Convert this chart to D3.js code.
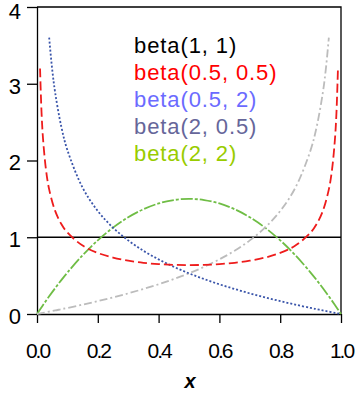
<!DOCTYPE html>
<html>
<head>
<meta charset="utf-8">
<script src="https://cdn.jsdelivr.net/npm/d3@7"></script>
<style>
body { margin: 0; background: #fff; }
svg { display: block; font-family: "Liberation Sans", Arial, sans-serif; }
</style>
</head>
<body>
<div id="canvas"></div>
<script>
// DATA -----------------------------------------------------
var xs_u = [0.01, 0.015, 0.02, 0.03, 0.04, 0.06, 0.08, 0.1, 0.15, 0.2, 0.25, 0.3, 0.35, 0.4, 0.45, 0.5,
  0.55, 0.6, 0.65, 0.7, 0.75, 0.8, 0.85, 0.9, 0.92, 0.94, 0.96, 0.97, 0.98, 0.985, 0.99];
var ys_u = [3.199, 2.619, 2.274, 1.866, 1.624, 1.340, 1.173, 1.061, 0.891, 0.796, 0.735, 0.695, 0.667, 0.650, 0.640, 0.637,
  0.640, 0.650, 0.667, 0.695, 0.735, 0.796, 0.891, 1.061, 1.173, 1.340, 1.624, 1.866, 2.274, 2.619, 3.199];

var xs_b = [0.04, 0.05, 0.06, 0.08, 0.1, 0.15, 0.2, 0.25, 0.3, 0.35, 0.4, 0.45, 0.5, 0.55, 0.6, 0.65, 0.7, 0.75,
  0.8, 0.85, 0.9, 0.92, 0.94, 0.96, 0.98, 0.99, 1.0];
var ys_b = [3.6, 3.186, 2.878, 2.440, 2.135, 1.646, 1.342, 1.125, 0.959, 0.824, 0.712, 0.615, 0.530, 0.455, 0.387, 0.326, 0.269, 0.217,
  0.168, 0.122, 0.079, 0.063, 0.046, 0.031, 0.015, 0.008, 0];

var xs_g = [0, 0.01, 0.02, 0.04, 0.06, 0.08, 0.1, 0.15, 0.2, 0.25, 0.3, 0.35, 0.4, 0.45, 0.5, 0.55, 0.6, 0.65, 0.7, 0.75,
  0.8, 0.85, 0.9, 0.92, 0.94, 0.95, 0.96];
var ys_g = [0, 0.008, 0.015, 0.031, 0.046, 0.063, 0.079, 0.122, 0.168, 0.217, 0.269, 0.326, 0.387, 0.455, 0.530, 0.615, 0.712, 0.824, 0.959, 1.125,
  1.342, 1.646, 2.135, 2.440, 2.878, 3.186, 3.6];

var xs_s = [0, 0.02, 0.04, 0.06, 0.08, 0.1, 0.15, 0.2, 0.25, 0.3, 0.35, 0.4, 0.45, 0.5, 0.55, 0.6, 0.65, 0.7, 0.75,
  0.8, 0.85, 0.9, 0.92, 0.94, 0.96, 0.98, 1.0];
var ys_s = [0, 0.118, 0.230, 0.338, 0.442, 0.54, 0.765, 0.96, 1.125, 1.26, 1.365, 1.44, 1.485, 1.5, 1.485, 1.44, 1.365, 1.26, 1.125,
  0.96, 0.765, 0.54, 0.442, 0.338, 0.230, 0.118, 0];

var xs_one = [0, 1];
var ys_one = [1, 1];

var legend_labels = ["beta(1, 1)", "beta(0.5, 0.5)", "beta(0.5, 2)", "beta(2, 0.5)", "beta(2, 2)"];
var legend_colors = ["#000000", "#ff0000", "#6b6bff", "#66669a", "#99cc00"];

var x_ticks = [0, 0.2, 0.4, 0.6, 0.8, 1.0];
var y_ticks = [0, 1, 2, 3, 4];

// STRUCTURE ------------------------------------------------
var W = 357, H = 394;
var m_left = 37, m_right = 341, m_top = 7, m_bottom = 314;

var svg = d3.select("#canvas").append("svg")
  .attr("width", W)
  .attr("height", H);

var xScale = d3.scaleLinear().domain([0, 1]).range([m_left, m_right]);
var yScale = d3.scaleLinear().domain([0, 4]).range([m_bottom, m_top]);

// frame (top, right)
svg.append("path")
  .attr("d", `M${m_left},${m_top}H${m_right}V${m_bottom}`)
  .attr("fill", "none")
  .attr("stroke", "#000")
  .attr("stroke-width", 1.3);

// axes
var yAxis = svg.append("g")
  .attr("transform", `translate(${m_left},0)`)
  .call(d3.axisLeft(yScale).tickValues(y_ticks).tickSize(10).tickPadding(6).tickFormat(d3.format("d")));
var xAxis = svg.append("g")
  .attr("transform", `translate(0,${m_bottom})`)
  .call(d3.axisBottom(xScale).tickValues(x_ticks).tickSize(9).tickPadding(20).tickFormat(d3.format(".1f")));

[xAxis, yAxis].forEach(function (a) {
  a.select(".domain").attr("stroke-width", 1.3);
  a.selectAll(".tick line").attr("stroke-width", 1.3);
  a.selectAll("text").attr("font-family", "Liberation Sans, Arial, sans-serif").attr("fill", "#000");
});
yAxis.select(".domain").attr("d", `M0.5,${m_top}V${m_bottom}`);
xAxis.select(".domain").attr("d", `M${m_left},0.5H${m_right}`);
yAxis.selectAll("text").attr("font-size", 22).attr("dy", (d) => d === 4 ? "0.5em" : "0.42em");
xAxis.selectAll("text").attr("font-size", 21).attr("letter-spacing", -2);

// axis title
svg.append("text")
  .attr("x", 190)
  .attr("y", 388)
  .attr("text-anchor", "middle")
  .attr("font-size", 20)
  .attr("font-weight", "bold")
  .attr("font-style", "italic")
  .text("x");

// CURVES ---------------------------------------------------
var line = d3.line()
  .x((d) => xScale(d[0]))
  .y((d) => yScale(d[1]))
  .curve(d3.curveCatmullRom);

var series = [
  { xs: xs_one, ys: ys_one, color: "#000000", dash: null, w: 1.3 },
  { xs: xs_s, ys: ys_s, color: "#6fbd45", dash: "12,2,3,2", w: 1.8 },
  { xs: xs_g, ys: ys_g, color: "#bcbcbc", dash: "8,3,2,3", w: 1.8 },
  { xs: xs_b, ys: ys_b, color: "#3a55aa", dash: "2,2", w: 1.8 },
  { xs: xs_u, ys: ys_u, color: "#ee1c1c", dash: "9,4", w: 1.8 }
];

svg.selectAll(".curve")
  .data(series)
  .enter()
  .append("path")
  .attr("class", "curve")
  .attr("d", (s) => line(s.xs.map((x, i) => [x, s.ys[i]])))
  .attr("fill", "none")
  .attr("stroke", (s) => s.color)
  .attr("stroke-width", (s) => s.w)
  .attr("stroke-dasharray", (s) => s.dash);

// LEGEND ---------------------------------------------------
svg.selectAll(".legend")
  .data(legend_labels)
  .enter()
  .append("text")
  .attr("class", "legend")
  .attr("x", 134)
  .attr("y", (d, i) => 53 + i * 27)
  .attr("font-size", 22)
  .attr("letter-spacing", 0.9)
  .attr("fill", (d, i) => legend_colors[i])
  .text((d) => d);
</script>
</body>
</html>
